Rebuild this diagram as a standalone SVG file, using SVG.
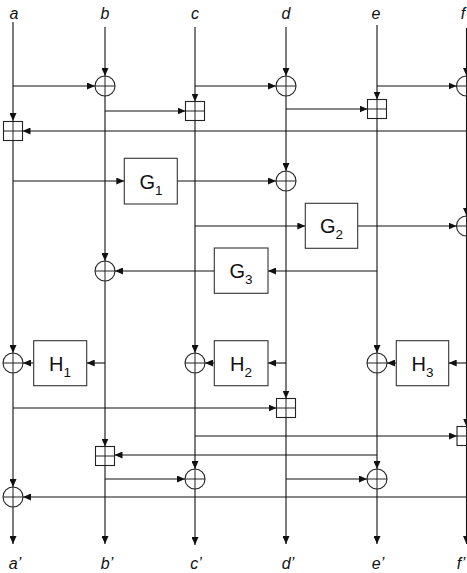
<svg xmlns="http://www.w3.org/2000/svg" width="467" height="573" viewBox="0 0 467 573">
<style>
.ln{fill:none;stroke:#111;stroke-width:1.1}
.ar{fill:none;stroke:#111;stroke-width:1.1;marker-end:url(#ah)}
.op{fill:#fff;stroke:#222;stroke-width:1.1}
.pl{stroke:#222;stroke-width:1}
.bx{fill:#fff;stroke:#333;stroke-width:1.1}
.lbl{font-family:"Liberation Sans",Arial,sans-serif;font-style:italic;font-size:16px;fill:#111;text-anchor:middle}
.fn{font-family:"Liberation Sans",Arial,sans-serif;font-size:20px;fill:#111;text-anchor:middle}
.sub{font-size:13.5px}
</style>
<defs>
<marker id="ah" markerUnits="userSpaceOnUse" markerWidth="9" markerHeight="7" refX="8" refY="3.5" orient="auto">
<path d="M0,0 L8,3.5 L0,7 z" fill="#111"/>
</marker>
<g id="xor"><circle r="10" class="op"/><path d="M-10,0 H10 M0,-10 V10" class="pl"/></g>
<g id="add"><rect x="-9.5" y="-9.5" width="19" height="19" class="op"/><path d="M-9.5,0 H9.5 M0,-9.5 V9.5" class="pl"/></g>
</defs>
<rect width="467" height="573" fill="#fff"/>
<g id="connectors">
<path class="ar" d="M13,22 V121"/>
<path class="ar" d="M13,140.5 V353"/>
<path class="ar" d="M13,373 V487"/>
<path class="ar" d="M13,507 V544"/>
<path class="ar" d="M105,27 V76"/>
<path class="ar" d="M105,96 V261"/>
<path class="ar" d="M105,281 V446.5"/>
<path class="ar" d="M105,465.5 V544"/>
<path class="ar" d="M195,27 V101.5"/>
<path class="ar" d="M195,120.5 V353"/>
<path class="ar" d="M195,373 V469"/>
<path class="ar" d="M195,489 V545"/>
<path class="ar" d="M286,27 V76"/>
<path class="ar" d="M286,96 V171"/>
<path class="ar" d="M286,191 V398.5"/>
<path class="ar" d="M286,417.5 V544"/>
<path class="ar" d="M377,25 V99.5"/>
<path class="ar" d="M377,118.5 V353"/>
<path class="ar" d="M377,373 V469"/>
<path class="ar" d="M377,489 V544"/>
<path class="ar" d="M466.5,28 V76"/>
<path class="ar" d="M466.5,96 V216"/>
<path class="ar" d="M466.5,236 V426.5"/>
<path class="ar" d="M466.5,445.5 V544"/>
<path class="ar" d="M13,86 H95"/>
<path class="ar" d="M195,86 H276"/>
<path class="ar" d="M377,86 H456.5"/>
<path class="ar" d="M105,111 H185.5"/>
<path class="ar" d="M286,109 H367.5"/>
<path class="ar" d="M466.5,131 H22.5"/>
<path class="ar" d="M13,181 H124.3"/>
<path class="ar" d="M177.3,181 H276"/>
<path class="ar" d="M195,226 H305.3"/>
<path class="ar" d="M357.7,226 H456.5"/>
<path class="ar" d="M377,271 H268"/>
<path class="ar" d="M214.3,271 H115"/>
<path class="ar" d="M105,363 H86.7"/>
<path class="ar" d="M33.7,363 H23"/>
<path class="ar" d="M286,363 H268"/>
<path class="ar" d="M214.3,363 H205"/>
<path class="ar" d="M466.5,363 H448.7"/>
<path class="ar" d="M396.3,363 H387"/>
<path class="ar" d="M13,408 H276.5"/>
<path class="ar" d="M195,436 H457"/>
<path class="ar" d="M377,455 H114.5"/>
<path class="ar" d="M105,479 H185"/>
<path class="ar" d="M286,479 H367"/>
<path class="ar" d="M466.5,497 H23"/>
</g>
<g id="xor-b1"><use href="#xor" x="105" y="86"/></g>
<g id="xor-d1"><use href="#xor" x="286" y="86"/></g>
<g id="xor-f1"><use href="#xor" x="466.5" y="86"/></g>
<g id="add-c1"><use href="#add" x="195" y="111"/></g>
<g id="add-e1"><use href="#add" x="377" y="109"/></g>
<g id="add-a1"><use href="#add" x="13" y="131"/></g>
<g id="xor-d2"><use href="#xor" x="286" y="181"/></g>
<g id="xor-f2"><use href="#xor" x="466.5" y="226"/></g>
<g id="xor-b2"><use href="#xor" x="105" y="271"/></g>
<g id="xor-a2"><use href="#xor" x="13" y="363"/></g>
<g id="xor-c2"><use href="#xor" x="195" y="363"/></g>
<g id="xor-e2"><use href="#xor" x="377" y="363"/></g>
<g id="add-d2"><use href="#add" x="286" y="408"/></g>
<g id="add-f2"><use href="#add" x="466.5" y="436"/></g>
<g id="add-b2"><use href="#add" x="105" y="456"/></g>
<g id="xor-c3"><use href="#xor" x="195" y="479"/></g>
<g id="xor-e3"><use href="#xor" x="377" y="479"/></g>
<g id="xor-a3"><use href="#xor" x="13" y="497"/></g>
<g id="G1"><rect class="bx" x="124.3" y="158.3" width="53" height="45.7"/><text class="fn" x="151" y="188.5">G<tspan class="sub" dy="6">1</tspan></text></g>
<g id="G2"><rect class="bx" x="305.3" y="203.3" width="52.4" height="45"/><text class="fn" x="331.5" y="233">G<tspan class="sub" dy="6">2</tspan></text></g>
<g id="G3"><rect class="bx" x="214.3" y="248" width="53.7" height="45.3"/><text class="fn" x="241" y="278">G<tspan class="sub" dy="6">3</tspan></text></g>
<g id="H1"><rect class="bx" x="33.7" y="340.7" width="53" height="45"/><text class="fn" x="60" y="370.5">H<tspan class="sub" dy="6">1</tspan></text></g>
<g id="H2"><rect class="bx" x="214.3" y="340.7" width="53.7" height="45"/><text class="fn" x="241" y="370.5">H<tspan class="sub" dy="6">2</tspan></text></g>
<g id="H3"><rect class="bx" x="396.3" y="340.7" width="52.4" height="45"/><text class="fn" x="422.5" y="370.5">H<tspan class="sub" dy="6">3</tspan></text></g>
<g id="labels">
<text class="lbl" x="14" y="19">a</text>
<text class="lbl" x="105" y="19">b</text>
<text class="lbl" x="195" y="19">c</text>
<text class="lbl" x="286" y="19">d</text>
<text class="lbl" x="376" y="19">e</text>
<text class="lbl" x="463" y="19">f</text>
<text class="lbl" x="15" y="569">a’</text>
<text class="lbl" x="107" y="569">b’</text>
<text class="lbl" x="196" y="569">c’</text>
<text class="lbl" x="288" y="569">d’</text>
<text class="lbl" x="378" y="569">e’</text>
<text class="lbl" x="461" y="569">f’</text>
</g>
</svg>
